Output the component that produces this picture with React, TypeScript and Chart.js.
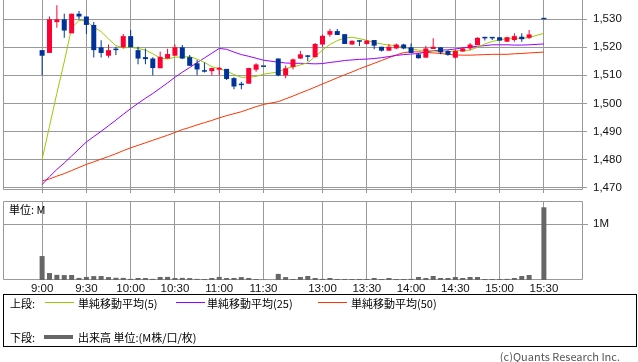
import React, { useEffect, useRef } from "react";
import { Chart, registerables } from "chart.js";

Chart.register(...registerables);

// ---- data (5-minute bars; "" = lunch spacer slot, 15:25 slot empty) ----
const times = [
  "9:00","9:05","9:10","9:15","9:20","9:25","9:30","9:35","9:40","9:45","9:50","9:55",
  "10:00","10:05","10:10","10:15","10:20","10:25","10:30","10:35","10:40","10:45","10:50","10:55",
  "11:00","11:05","11:10","11:15","11:20","11:25","11:30","",
  "12:30","12:35","12:40","12:45","12:50","12:55",
  "13:00","13:05","13:10","13:15","13:20","13:25","13:30","13:35","13:40","13:45","13:50","13:55",
  "14:00","14:05","14:10","14:15","14:20","14:25","14:30","14:35","14:40","14:45","14:50","14:55",
  "15:00","15:05","15:10","15:15","15:20","15:25","15:30",
];

const opens = [
  1519,1518,1529,1530,1525,1532,1531,1528,1520,1517,1519,1520,
  1524,1519,1516.5,1516,1512.5,1516,1517,1520,1516.5,1514.3,1511.3,1511.5,
  1512,1512.3,1509,1506.5,1507,1512,1513,null,
  1516,1510,1513,1516,1516.6,1516.5,
  1521,1524.5,1525.8,1524.7,1521,1522,1521.2,1522.6,1520.2,1518.8,1519.6,1521,
  1520,1517.5,1516.3,1519.4,1520,1518.7,1516.3,1518.5,1519.6,1520.8,1523.2,1523.2,
  1523.6,1522,1522.6,1523.8,1523.4,null,1530,
];
const highs = [
  1519,1531,1535,1532,1532,1533,1531,1529,1522.5,1521,1520.2,1524.8,
  1526.2,1520.2,1519.6,1516.5,1518.5,1519.5,1521,1520.8,1517.3,1515.5,1514.6,1512.7,
  1513,1512.3,1509.3,1507.7,1512.7,1514.3,1513,null,
  1516,1513.5,1516,1518.7,1517.3,1521.5,
  1524.6,1526.5,1526.5,1524.7,1522.5,1522.6,1522.6,1522.6,1520.2,1521.2,1521.4,1521.3,
  1521.4,1518,1520.6,1523.2,1520,1519,1519,1520,1521.5,1523.6,1523.8,1523.7,
  1523.6,1523.8,1525,1525,1526.2,null,1530,
];
const lows = [
  1510,1518,1527,1523.4,1525,1530,1524.8,1516.4,1516.4,1516.3,1517.3,1519.6,
  1520,1514,1514,1510,1512.7,1516,1517.2,1515.8,1513.4,1510,1511,1510,
  1510,1508.3,1505,1505,1507.1,1511.3,1513,null,
  1509.7,1509,1512.1,1515.8,1515,1516.4,
  1520.2,1523.8,1524.4,1521.2,1520.9,1520.5,1521,1519.3,1518.5,1518.8,1519.3,1519.3,
  1518,1516,1516.3,1519.4,1517.5,1517,1516,1518.4,1519,1520.8,1522.4,1522.6,
  1522.4,1522,1522,1522,1523,null,1530,
];
const closes = [
  1517,1530,1530,1526,1532,1531,1528,1519,1518,1519,1519,1524,
  1520,1516,1515.8,1512.6,1516.6,1517.6,1520,1516,1513.4,1512.1,1511.3,1512.6,
  1512.7,1508.7,1506,1506.5,1512.6,1513.9,1513,null,
  1510,1512.5,1515.7,1517.5,1516.6,1521.2,
  1524.1,1525.8,1524.4,1521.2,1522.3,1522,1522.4,1520.6,1518.8,1520.2,1521,1519.6,
  1518,1516.1,1519.6,1520.2,1518.2,1517.3,1518.7,1519.6,1521,1523.4,1523.2,1523.2,
  1522.4,1523.6,1524,1522.9,1524.6,null,1530,
];

// volume, thousand shares
const volumes = [
  430,125,92,88,90,38,55,70,72,52,40,38,
  20,36,35,20,54,56,36,38,34,20,18,36,
  55,35,36,52,36,18,6,null,
  110,52,18,54,72,36,
  20,36,18,18,18,18,18,36,18,36,18,18,
  20,54,36,72,36,36,54,36,54,54,18,18,
  18,20,36,72,90,null,1305,
];

const ma5 = [
  1480,1491.8,1503.6,1514.8,1527,1529.6,1529.4,1527.2,1525.6,1523,1520.6,1519.8,
  1520,1519.6,1519,1517.7,1516.2,1515.8,1516.5,1516.5,1516.7,1515.8,1514.6,1513.1,
  1512.4,1511.5,1510.3,1509.3,1509.3,1509.6,1510.4,null,
  1511.2,1512.4,1513,1513.7,1514.5,1516.7,
  1519,1521,1522.4,1523.3,1523.6,1523.1,1522.5,1521.7,1521.2,1520.8,1520.6,1520,
  1519.5,1519,1518.9,1518.7,1518.4,1518.3,1518.8,1518.8,1519,1520,1521.2,1522.1,
  1522.6,1523.2,1523.3,1523.2,1523.5,null,1525,
];
const ma25 = [
  1471,1473.8,1476.4,1478.7,1481.2,1483.7,1486.2,1488.1,1490,1492,1494,1496.1,
  1498.1,1500,1501.8,1503.5,1505.4,1507.3,1509.3,1511.1,1512.8,1514.5,1516.2,1517.9,
  1519.6,1519.3,1518.3,1517.4,1516.8,1516.1,1515.4,null,
  1514.7,1514.4,1514.3,1514.3,1514.2,1514.1,
  1514.2,1514.6,1514.9,1515.3,1515.5,1515.7,1515.8,1516,1516.3,1516.7,1517.1,1517.4,
  1517.6,1517.8,1518.3,1518.8,1519,1519.1,1519.4,1519.8,1520.1,1520.4,1520.6,1520.9,
  1520.9,1520.9,1520.8,1520.8,1520.9,null,1521.2,
];
const ma50 = [
  1472.3,1473,1474,1474.9,1476,1477.1,1478.2,1479.1,1480.1,1481,1482,1483.1,
  1484.1,1485,1485.9,1486.8,1487.7,1488.6,1489.6,1490.6,1491.4,1492.3,1493.1,1493.9,
  1494.8,1495.6,1496.3,1497,1497.9,1498.8,1499.6,null,
  1500.6,1501.6,1502.6,1503.7,1504.7,1505.8,
  1506.9,1508,1509.1,1510.2,1511.2,1512.3,1513.3,1514.3,1515.3,1516.3,1517.3,1518.1,
  1518.4,1518.4,1518.2,1518,1517.8,1517.5,1517.3,1517.2,1517.2,1517.3,1517.4,1517.5,
  1517.5,1517.5,1517.7,1517.8,1518,null,1518.3,
];

const priceTicks = [1470, 1480, 1490, 1500, 1510, 1520, 1530];
const tickTimes = ["9:00","9:30","10:00","10:30","11:00","11:30","13:00","13:30","14:00","14:30","15:00","15:30"];
const volumeTicks = [1000];

// ---- styles ----
const UP = "#ff0033";
const DOWN = "#003399";
const C_MA5 = "#99cc00";
const C_MA25 = "#9900ff";
const C_MA50 = "#ff3300";
const VOL = "#666666";
const GRID = "#999999";
const TICK_FONT = { family: "'Liberation Sans', Arial, sans-serif", size: 11.5 };
const JP_FONT = "'Noto Sans CJK JP', 'Noto Sans', sans-serif";
const X_MIN = -5.3;
const X_MAX = 73.3;
const PRICE_MIN = 1469.05;
const PRICE_MAX = 1536.9;
const VOL_MAX = 1418;

const tickIndex = tickTimes.map((t) => times.indexOf(t));

function framePlugin(drawTop: boolean) {
  return {
    id: drawTop ? "frameTop" : "frameOpen",
    beforeDatasetsDraw(chart: any) {
      const { ctx, chartArea: a } = chart;
      const l = Math.round(a.left) + 0.5;
      const r = Math.round(a.right) - 0.5;
      const t = Math.round(a.top) + 0.5;
      const b = Math.round(a.bottom) - 0.5;
      ctx.save();
      ctx.strokeStyle = GRID;
      ctx.lineWidth = 1;
      ctx.beginPath();
      if (drawTop) {
        ctx.rect(l, t, r - l, b - t);
      } else {
        ctx.moveTo(l, a.top);
        ctx.lineTo(l, b);
        ctx.lineTo(r, b);
        ctx.lineTo(r, a.top);
      }
      ctx.stroke();
      ctx.restore();
    },
  };
}

function pointsOf(arr: (number | null)[]) {
  const out: { x: number; y: number }[] = [];
  arr.forEach((v, i) => {
    if (v !== null) out.push({ x: i, y: v });
  });
  return out;
}

function xScale(showLabels: boolean, height: number) {
  return {
    type: "linear" as const,
    min: X_MIN,
    max: X_MAX,
    bounds: "data" as const,
    offset: false,
    afterBuildTicks: (s: any) => {
      s.ticks = tickIndex.map((v) => ({ value: v }));
    },
    afterFit: (s: any) => {
      s.height = height;
      s.paddingLeft = 0;
      s.paddingRight = 0;
    },
    ticks: {
      display: showLabels,
      autoSkip: false,
      maxRotation: 0,
      padding: 2,
      font: TICK_FONT,
      color: "#111",
      callback: (v: any) => times[Number(v)] ?? "",
    },
    grid: {
      color: GRID,
      lineWidth: 1,
      offset: false,
      drawTicks: !showLabels,
      tickLength: 3,
    },
    border: { display: false },
  };
}

export default function App() {
  const priceRef = useRef<HTMLCanvasElement>(null);
  const volRef = useRef<HTMLCanvasElement>(null);

  useEffect(() => {
    const candleIdx: number[] = [];
    opens.forEach((o, i) => {
      if (o !== null) candleIdx.push(i);
    });
    const candleColors = candleIdx.map((i) =>
      (closes[i] as number) > (opens[i] as number) ? UP : DOWN
    );
    const bodies = candleIdx.map((i) => ({ x: i, y: [opens[i], closes[i]] }));
    const wicks = candleIdx.map((i) => ({ x: i, y: [lows[i], highs[i]] }));

    const lineDs = (label: string, arr: (number | null)[], color: string, order: number) => ({
      type: "line" as const,
      label,
      data: pointsOf(arr),
      borderColor: color,
      backgroundColor: color,
      borderWidth: 1,
      pointRadius: 0,
      tension: 0,
      order,
    });

    const priceChart = new Chart(priceRef.current as HTMLCanvasElement, {
      type: "bar",
      data: {
        datasets: [
          lineDs("単純移動平均(50)", ma50, C_MA50, 6) as any,
          lineDs("単純移動平均(25)", ma25, C_MA25, 5) as any,
          lineDs("単純移動平均(5)", ma5, C_MA5, 4) as any,
          {
            type: "bar",
            label: "wick",
            data: wicks as any,
            backgroundColor: candleColors,
            barThickness: 1,
            grouped: false,
            inflateAmount: 0,
            order: 3,
          },
          {
            type: "bar",
            label: "body",
            data: bodies as any,
            backgroundColor: candleColors,
            barThickness: 5,
            grouped: false,
            minBarLength: 1.5,
            inflateAmount: 0,
            order: 2,
          },
        ],
      },
      options: {
        responsive: false,
        animation: false,
        events: [],
        layout: { padding: { left: 3, right: 0, top: 0, bottom: 0 } },
        plugins: { legend: { display: false }, tooltip: { enabled: false } },
        scales: {
          x: xScale(false, 6) as any,
          y: {
            type: "linear",
            position: "right",
            min: PRICE_MIN,
            max: PRICE_MAX,
            bounds: "data",
            afterBuildTicks: (s: any) => {
              s.ticks = priceTicks.map((v) => ({ value: v }));
            },
            afterFit: (s: any) => {
              s.width = 55;
              s.paddingTop = 0;
              s.paddingBottom = 0;
            },
            ticks: {
              padding: 6,
              font: TICK_FONT,
              color: "#111",
              callback: (v: any) => Number(v).toLocaleString("en-US"),
            },
            grid: { color: GRID, lineWidth: 1, tickLength: 4 },
            border: { display: false },
          } as any,
        },
      },
      plugins: [framePlugin(false)],
    });

    const volChart = new Chart(volRef.current as HTMLCanvasElement, {
      type: "bar",
      data: {
        datasets: [
          {
            label: "出来高",
            data: pointsOf(volumes) as any,
            backgroundColor: VOL,
            barThickness: 5,
            grouped: false,
            inflateAmount: 0,
          },
        ],
      },
      options: {
        responsive: false,
        animation: false,
        events: [],
        layout: { padding: { left: 3, right: 0, top: 5, bottom: 0 } },
        plugins: { legend: { display: false }, tooltip: { enabled: false } },
        scales: {
          x: xScale(true, 18) as any,
          y: {
            type: "linear",
            position: "right",
            min: 0,
            max: VOL_MAX,
            bounds: "data",
            afterBuildTicks: (s: any) => {
              s.ticks = volumeTicks.map((v) => ({ value: v }));
            },
            afterFit: (s: any) => {
              s.width = 55;
              s.paddingTop = 0;
              s.paddingBottom = 0;
            },
            ticks: {
              padding: 5,
              font: TICK_FONT,
              color: "#111",
              callback: (v: any) => `${Number(v) / 1000}M`,
            },
            grid: { color: GRID, lineWidth: 1, tickLength: 5 },
            border: { display: false },
          } as any,
        },
      },
      plugins: [framePlugin(true)],
    });

    return () => {
      priceChart.destroy();
      volChart.destroy();
    };
  }, []);

  const legendText: React.CSSProperties = {
    position: "absolute",
    fontSize: 11,
    lineHeight: "12px",
    color: "#000",
    whiteSpace: "nowrap",
  };
  const swatch = (left: number, top: number, color: string, h: number): React.CSSProperties => ({
    position: "absolute",
    left,
    top,
    width: 29,
    height: h,
    background: color,
  });

  return (
    <div
      style={{
        position: "absolute",
        left: 0,
        top: 0,
        width: 638,
        height: 362,
        background: "#fff",
        overflow: "hidden",
        fontFamily: JP_FONT,
      }}
    >
      <canvas
        ref={priceRef}
        width={638}
        height={196}
        style={{ position: "absolute", left: 0, top: 0, width: 638, height: 196 }}
      />
      <canvas
        ref={volRef}
        width={638}
        height={102}
        style={{ position: "absolute", left: 0, top: 196, width: 638, height: 102 }}
      />
      <div style={{ ...legendText, left: 9, top: 203 }}>単位: M</div>

      <div
        style={{
          position: "absolute",
          left: 3,
          top: 294,
          width: 632,
          height: 51,
          border: "1px solid #000",
        }}
      >
        <div style={{ ...legendText, left: 6, top: 2 }}>上段:</div>
        <div style={swatch(41, 7, C_MA5, 1)} />
        <div style={{ ...legendText, left: 74, top: 2 }}>単純移動平均(5)</div>
        <div style={swatch(172, 7, C_MA25, 1)} />
        <div style={{ ...legendText, left: 203, top: 2 }}>単純移動平均(25)</div>
        <div style={swatch(314, 7, C_MA50, 1)} />
        <div style={{ ...legendText, left: 347, top: 2 }}>単純移動平均(50)</div>

        <div style={{ ...legendText, left: 6, top: 36 }}>下段:</div>
        <div style={swatch(40, 40, VOL, 4)} />
        <div style={{ ...legendText, left: 74, top: 36 }}>出来高 単位:(M株/口/枚)</div>
      </div>

      <div style={{ ...legendText, right: 18, top: 350, color: "#555" }}>(c)Quants Research Inc.</div>
    </div>
  );
}
